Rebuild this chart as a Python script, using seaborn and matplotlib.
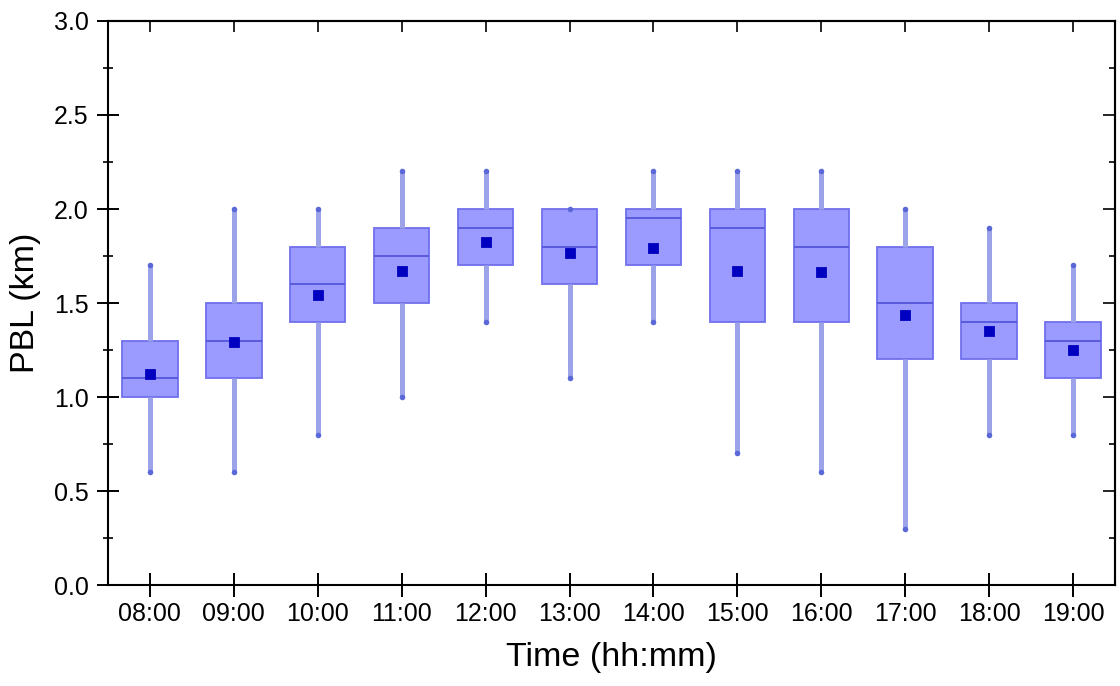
import numpy as np
import pandas as pd
import matplotlib
matplotlib.use("Agg")
import matplotlib.pyplot as plt
from matplotlib.ticker import MultipleLocator, FormatStrFormatter
import seaborn as sns

times = ["08:00", "09:00", "10:00", "11:00", "12:00", "13:00",
         "14:00", "15:00", "16:00", "17:00", "18:00", "19:00"]
whisker_low = [0.6, 0.6, 0.8, 1.0, 1.4, 1.1, 1.4, 0.7, 0.6, 0.3, 0.8, 0.8]
q1 =          [1.0, 1.1, 1.4, 1.5, 1.7, 1.6, 1.7, 1.4, 1.4, 1.2, 1.2, 1.1]
median =      [1.1, 1.3, 1.6, 1.75, 1.9, 1.8, 1.95, 1.9, 1.8, 1.5, 1.4, 1.3]
q3 =          [1.3, 1.5, 1.8, 1.9, 2.0, 2.0, 2.0, 2.0, 2.0, 1.8, 1.5, 1.4]
whisker_high = [1.7, 2.0, 2.0, 2.2, 2.2, 2.0, 2.2, 2.2, 2.2, 2.0, 1.9, 1.7]
means =       [1.12, 1.295, 1.54, 1.67, 1.825, 1.765, 1.79, 1.67, 1.665, 1.435, 1.35, 1.25]

# five summary values per time; with whis=(0,100) the box/whiskers reproduce them exactly
rows = []
for t, a, b, c, d, e in zip(times, whisker_low, q1, median, q3, whisker_high):
    for v in (a, b, c, d, e):
        rows.append({"Time": t, "PBL": v})
df = pd.DataFrame(rows)

sns.set_theme(style="ticks")
plt.rcParams["font.family"] = ["Liberation Sans", "DejaVu Sans"]

fig = plt.figure(figsize=(11.2, 6.86), dpi=100)
ax = fig.add_axes([0.0964, 0.1472, 0.8991, 0.8222])

box_face = "#9b9bff"
box_edge = "#6f6fec"
whisk_col = "#9ca3e8"

sns.boxplot(data=df, x="Time", y="PBL", order=times, whis=(0, 100), width=0.66,
            saturation=1, color=box_face, showcaps=False, showfliers=False,
            boxprops=dict(facecolor=box_face, edgecolor=box_edge, linewidth=1.3),
            whiskerprops=dict(color=whisk_col, linewidth=3.6),
            medianprops=dict(color="#5555da", linewidth=1.3),
            ax=ax, zorder=2)

# whisker end dots
sns.stripplot(x=times + times, y=whisker_low + whisker_high, order=times, jitter=False,
              color="#5a68d8", size=4, marker="o", linewidth=0, ax=ax, zorder=4)
# mean markers
sns.pointplot(x=times, y=means, order=times, linestyle="none", markers="s",
              color="#0000c0", markersize=5.5, errorbar=None, ax=ax, zorder=5)

ax.set_xlim(-0.5, len(times) - 0.5)
ax.set_ylim(0, 3.0)
ax.yaxis.set_major_locator(MultipleLocator(0.5))
ax.yaxis.set_minor_locator(MultipleLocator(0.25))
ax.yaxis.set_major_formatter(FormatStrFormatter("%.1f"))

for s in ax.spines.values():
    s.set_visible(True)
    s.set_linewidth(1.5)
    s.set_color("black")

ax.tick_params(axis="x", which="major", direction="inout", length=17, width=1.4,
               labelsize=18, pad=4, colors="black")
ax.tick_params(axis="y", which="major", direction="inout", length=16, width=1.4,
               labelsize=18, pad=6, colors="black")
ax.tick_params(axis="y", which="minor", direction="inout", length=7.5, width=1.4)
ax.tick_params(axis="x", which="minor", bottom=False)

secx = ax.secondary_xaxis("top")
secx.set_xticks(range(len(times)))
secx.set_xticklabels([])
secx.tick_params(direction="in", length=8, width=1.4)
secx.spines["top"].set_linewidth(1.5)

secy = ax.secondary_yaxis("right")
secy.yaxis.set_major_locator(MultipleLocator(0.5))
secy.yaxis.set_minor_locator(MultipleLocator(0.25))
secy.set_yticklabels([])
secy.tick_params(which="major", direction="in", length=8.5, width=1.4)
secy.tick_params(which="minor", direction="in", length=4.3, width=1.4)
secy.spines["right"].set_linewidth(1.5)

ax.set_xlabel("Time (hh:mm)", fontsize=24.5, labelpad=11, color="black")
ax.set_ylabel("PBL (km)", fontsize=24.5, labelpad=9, color="black")

fig.savefig("out.png", dpi=100)
